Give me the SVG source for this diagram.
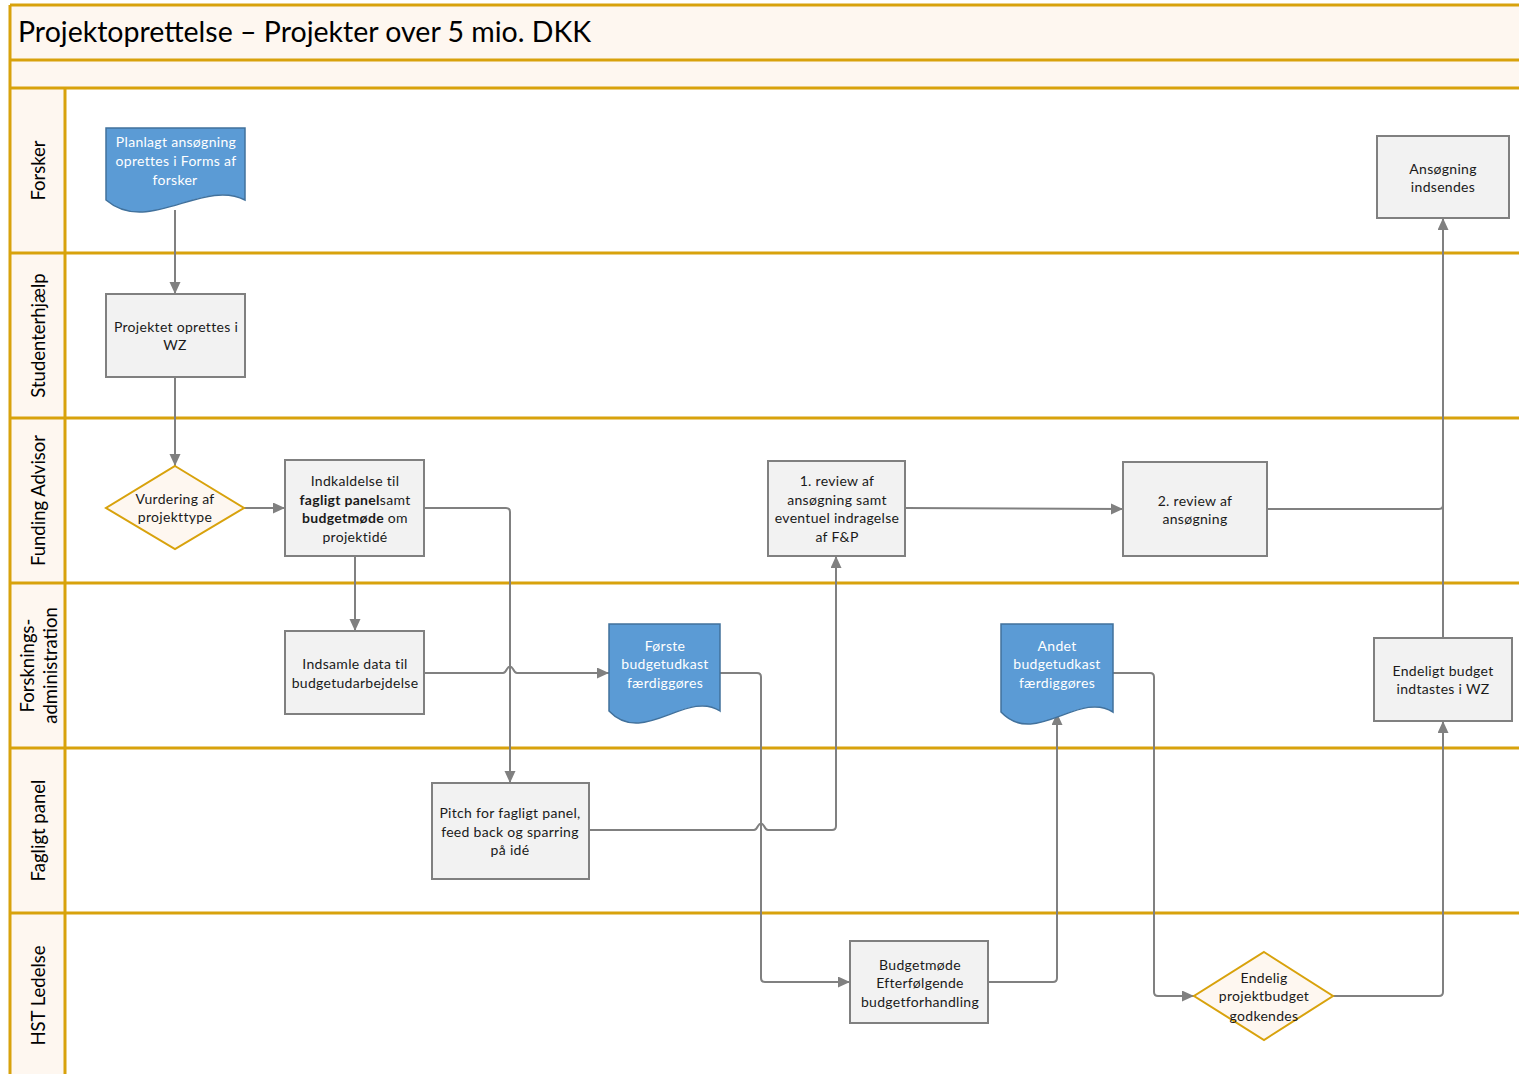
<svg xmlns="http://www.w3.org/2000/svg" width="1519" height="1074" viewBox="0 0 1519 1074">
<defs>
<marker id="arr" markerUnits="userSpaceOnUse" markerWidth="14" markerHeight="12" refX="12" refY="5.5" orient="auto">
<path d="M0,0 L12,5.5 L0,11 z" fill="#808080"/>
</marker>
<style>
.band{fill:#FEF7F0;stroke:none}
.lane{stroke:#D8A20C;stroke-width:3;fill:none}
.lbl{font-family:Lato,"Liberation Sans",sans-serif;font-size:18.5px;fill:#000;text-anchor:middle;dominant-baseline:central}
.title{font-family:Lato,"Liberation Sans",sans-serif;font-size:28.5px;fill:#000}
.box{fill:#F2F2F2;stroke:#808080;stroke-width:2}
.doc{fill:#5B9BD5;stroke:#41719C;stroke-width:1.5}
.dia{fill:#FEF7F0;stroke:#D8A20C;stroke-width:2}
.t{font-family:Lato,"Liberation Sans",sans-serif;font-size:14px;letter-spacing:0.3px;fill:#1a1a1a;text-anchor:middle;dominant-baseline:central}
.tw{font-family:Lato,"Liberation Sans",sans-serif;font-size:14px;letter-spacing:0.3px;fill:#fff;text-anchor:middle;dominant-baseline:central}
.b{font-weight:bold}
.c{fill:none;stroke:#808080;stroke-width:2}
</style>
</defs>
<rect width="1519" height="1074" fill="#fff"/>
<g id="frame">
<rect class="band" x="10" y="5" width="1509" height="83"/>
<rect class="band" x="10" y="88" width="55" height="986"/>
<line class="lane" x1="10" y1="5" x2="1519" y2="5"/>
<line class="lane" x1="10" y1="60" x2="1519" y2="60"/>
<line class="lane" x1="10" y1="88" x2="1519" y2="88"/>
<line class="lane" x1="10" y1="253" x2="1519" y2="253"/>
<line class="lane" x1="10" y1="418" x2="1519" y2="418"/>
<line class="lane" x1="10" y1="583" x2="1519" y2="583"/>
<line class="lane" x1="10" y1="748" x2="1519" y2="748"/>
<line class="lane" x1="10" y1="913" x2="1519" y2="913"/>
<line class="lane" x1="10" y1="5" x2="10" y2="1074"/>
<line class="lane" x1="65" y1="88" x2="65" y2="1074"/>
<text class="title" x="18" y="42">Projektoprettelse – Projekter over 5 mio. DKK</text>
<text class="lbl" transform="translate(38,170.5) rotate(-90)">Forsker</text>
<text class="lbl" transform="translate(38,335.5) rotate(-90)">Studenterhjælp</text>
<text class="lbl" transform="translate(38,500.5) rotate(-90)">Funding Advisor</text>
<text class="lbl" transform="translate(27,665.5) rotate(-90)">Forsknings-</text>
<text class="lbl" transform="translate(50,665.5) rotate(-90)">administration</text>
<text class="lbl" transform="translate(38,830.5) rotate(-90)">Fagligt panel</text>
<text class="lbl" transform="translate(38,995.5) rotate(-90)">HST Ledelse</text>
</g>
<g id="connectors">
<path class="c" d="M175,210 V294" marker-end="url(#arr)"/>
<path class="c" d="M175,377 V466" marker-end="url(#arr)"/>
<path class="c" d="M244,508 H285" marker-end="url(#arr)"/>
<path class="c" d="M355,556 V631" marker-end="url(#arr)"/>
<path class="c" d="M424,508 H506 Q510,508 510,512 V783" marker-end="url(#arr)"/>
<path class="c" d="M424,673 H503 Q505,673 507,669 Q510,664 513,669 Q515,673 517,673 H609" marker-end="url(#arr)"/>
<path class="c" d="M589,830 H754 Q756,830 758,826 Q761,821 764,826 Q766,830 768,830 H832 Q836,830 836,826 V556" marker-end="url(#arr)"/>
<path class="c" d="M720,673 H757 Q761,673 761,677 V978 Q761,982 765,982 H850" marker-end="url(#arr)"/>
<path class="c" d="M905,508 L1123,509" marker-end="url(#arr)"/>
<path class="c" d="M988,982 H1053 Q1057,982 1057,978 V713" marker-end="url(#arr)"/>
<path class="c" d="M1113,673 H1150 Q1154,673 1154,677 V992 Q1154,996 1158,996 H1194" marker-end="url(#arr)"/>
<path class="c" d="M1333,996 H1439 Q1443,996 1443,992 V721" marker-end="url(#arr)"/>
<path class="c" d="M1443,638 V218" marker-end="url(#arr)"/>
<path class="c" d="M1267,509 H1439 Q1443,509 1443,505"/>
</g>
<g id="n1">
<path class="doc" d="M106,128 H245 V200 C203,178 148,236 106,200 Z"/>
<text class="tw" x="176" y="141">Planlagt ansøgning</text>
<text class="tw" x="176" y="160">oprettes i Forms af</text>
<text class="tw" x="175" y="179">forsker</text>
</g>
<g id="n2">
<rect class="box" x="106" y="294" width="139" height="83"/>
<text class="t" x="176" y="326">Projektet oprettes i</text>
<text class="t" x="175" y="344">WZ</text>
</g>
<g id="n3">
<path class="dia" d="M175,466 L244,508 L175,549 L106,508 Z"/>
<text class="t" x="175" y="498">Vurdering af</text>
<text class="t" x="175" y="516">projekttype</text>
</g>
<g id="n4">
<rect class="box" x="285" y="460" width="139" height="96"/>
<text class="t" x="355" y="480">Indkaldelse til</text>
<text class="t" x="355" y="499"><tspan class="b">fagligt panel</tspan>samt</text>
<text class="t" x="355" y="517"><tspan class="b">budgetmøde</tspan> om</text>
<text class="t" x="355" y="536">projektidé</text>
</g>
<g id="n5">
<rect class="box" x="285" y="631" width="139" height="83"/>
<text class="t" x="355" y="663">Indsamle data til</text>
<text class="t" x="355" y="682">budgetudarbejdelse</text>
</g>
<g id="n6">
<rect class="box" x="432" y="783" width="157" height="96"/>
<text class="t" x="510" y="812">Pitch for fagligt panel,</text>
<text class="t" x="510" y="831">feed back og sparring</text>
<text class="t" x="510" y="849">på idé</text>
</g>
<g id="n7">
<path class="doc" d="M609,624 H720 V711 C687,689 643,747 609,711 Z"/>
<text class="tw" x="665" y="645">Første</text>
<text class="tw" x="665" y="663">budgetudkast</text>
<text class="tw" x="665" y="682">færdiggøres</text>
</g>
<g id="n8">
<rect class="box" x="768" y="461" width="137" height="95"/>
<text class="t" x="837" y="480">1. review af</text>
<text class="t" x="837" y="499">ansøgning samt</text>
<text class="t" x="837" y="517">eventuel indragelse</text>
<text class="t" x="837" y="536">af F&amp;P</text>
</g>
<g id="n9">
<rect class="box" x="850" y="941" width="138" height="82"/>
<text class="t" x="920" y="964">Budgetmøde</text>
<text class="t" x="920" y="982">Efterfølgende</text>
<text class="t" x="920" y="1001">budgetforhandling</text>
</g>
<g id="n10">
<path class="doc" d="M1001,624 H1113 V712 C1079,690 1035,748 1001,712 Z"/>
<text class="tw" x="1057" y="645">Andet</text>
<text class="tw" x="1057" y="663">budgetudkast</text>
<text class="tw" x="1057" y="682">færdiggøres</text>
</g>
<g id="n11">
<rect class="box" x="1123" y="462" width="144" height="94"/>
<text class="t" x="1195" y="500">2. review af</text>
<text class="t" x="1195" y="518">ansøgning</text>
</g>
<g id="n12">
<path class="dia" d="M1264,952 L1333,996 L1264,1040 L1194,996 Z"/>
<text class="t" x="1264" y="977">Endelig</text>
<text class="t" x="1264" y="995">projektbudget</text>
<text class="t" x="1264" y="1015">godkendes</text>
</g>
<g id="n13">
<rect class="box" x="1374" y="638" width="138" height="83"/>
<text class="t" x="1443" y="670">Endeligt budget</text>
<text class="t" x="1443" y="688">indtastes i WZ</text>
</g>
<g id="n14">
<rect class="box" x="1377" y="136" width="132" height="82"/>
<text class="t" x="1443" y="168">Ansøgning</text>
<text class="t" x="1443" y="186">indsendes</text>
</g>
</svg>
